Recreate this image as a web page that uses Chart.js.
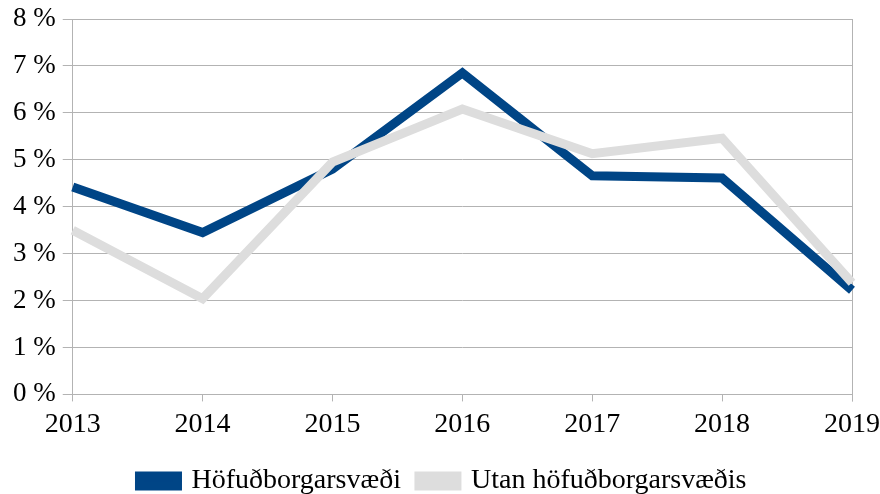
<!DOCTYPE html>
<html>
<head>
<meta charset="utf-8">
<script src="https://cdn.jsdelivr.net/npm/chart.js@4.4.1/dist/chart.umd.min.js"></script>
<style>
  html, body { margin: 0; padding: 0; background: #fff; }
  #wrap { width: 880px; height: 494px; }
</style>
</head>
<body>
<div id="wrap"><canvas id="chart" width="880" height="494"></canvas></div>
<script>
// data (percent)
const years = ['2013', '2014', '2015', '2016', '2017', '2018', '2019'];
const capital = [4.42, 3.45, 4.8, 6.85, 4.66, 4.61, 2.22];
const outside = [3.5, 2.04, 4.95, 6.08, 5.13, 5.46, 2.38];
const yTicks = [0, 1, 2, 3, 4, 5, 6, 7, 8];

const serif = '"Liberation Serif", "Times New Roman", serif';
const gridColor = '#b3b3b3';

// right border of the plot area + tighter legend box
const chartTweaks = {
    id: 'chartTweaks',
    beforeInit(chart) {
        const fit = chart.legend.fit;
        chart.legend.fit = function () {
            fit.call(this);
            this.height -= 11;
        };
    },
    beforeDatasetsDraw(chart) {
        const { ctx, chartArea } = chart;
        ctx.save();
        ctx.strokeStyle = gridColor;
        ctx.lineWidth = 1;
        ctx.beginPath();
        ctx.moveTo(Math.round(chartArea.right) + 0.5, chartArea.top);
        ctx.lineTo(Math.round(chartArea.right) + 0.5, chartArea.bottom + 7);
        ctx.stroke();
        ctx.restore();
    }
};

new Chart(document.getElementById('chart'), {
    type: 'line',
    data: {
        labels: years,
        datasets: [
            {
                label: 'Höfuðborgarsvæði',
                data: capital,
                borderColor: '#004586',
                backgroundColor: '#004586',
                borderWidth: 9,
                order: 1
            },
            {
                label: 'Utan höfuðborgarsvæðis',
                data: outside,
                borderColor: '#dddddd',
                backgroundColor: '#dddddd',
                borderWidth: 9,
                order: 0
            }
        ]
    },
    options: {
        responsive: false,
        animation: false,
        elements: {
            line: { tension: 0, borderJoinStyle: 'miter', borderCapStyle: 'butt' },
            point: { radius: 0, hoverRadius: 0 }
        },
        layout: { padding: { left: 6, right: 0, top: 0, bottom: 0 } },
        scales: {
            x: {
                offset: false,
                grid: { drawOnChartArea: false, color: gridColor, tickLength: 7 },
                border: { color: gridColor },
                ticks: { color: '#000', font: { family: serif, size: 28 }, padding: 6, maxRotation: 0 },
                afterFit: (axis) => {
                    axis.height += 2;
                    axis.paddingRight = 28;
                }
            },
            y: {
                min: 0,
                max: 8,
                afterBuildTicks: (axis) => { axis.ticks = yTicks.map(v => ({ value: v })); },
                afterFit: (axis) => { axis.paddingTop = 19; },
                grid: { color: gridColor, tickLength: 10 },
                border: { color: gridColor },
                ticks: {
                    color: '#000',
                    font: { family: serif, size: 27 },
                    padding: 7,
                    callback: (v) => v + ' %'
                }
            }
        },
        plugins: {
            legend: {
                position: 'bottom',
                labels: {
                    color: '#000',
                    font: { family: serif, size: 28 },
                    boxWidth: 38,
                    boxHeight: 10,
                    padding: 18,
                    sort: (a, b) => a.datasetIndex - b.datasetIndex
                }
            },
            tooltip: { enabled: false }
        }
    },
    plugins: [chartTweaks]
});
</script>
</body>
</html>
